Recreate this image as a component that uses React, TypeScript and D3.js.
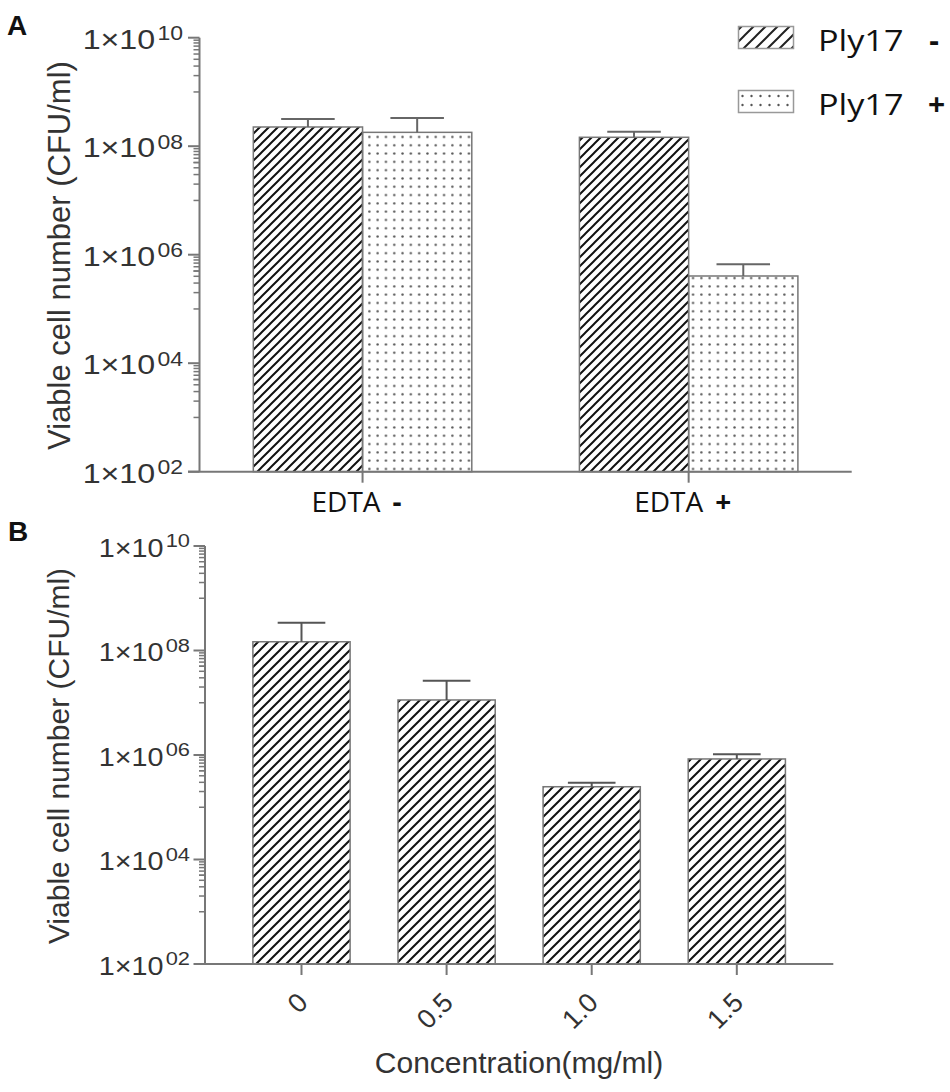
import React from "react";
import * as d3 from "d3";

// Panel A: viable counts with / without EDTA, Ply17 - / +
const edtaGroups = ["EDTA -", "EDTA +"];
const ply17Series = ["Ply17 -", "Ply17 +"];
const ply17MinusMean = [2.26e8, 1.46e8];
const ply17MinusSd = [0.91e8, 0.39e8];
const ply17PlusMean = [1.8e8, 4.05e5];
const ply17PlusSd = [1.51e8, 2.6e5];

// Panel B: Ply17 concentration series
const concentrations = ["0", "0.5", "1.0", "1.5"];
const concMean = [1.47e8, 1.13e7, 2.47e5, 8.4e5];
const concSd = [1.93e8, 1.51e7, 0.48e5, 1.9e5];

const yTickValues = [1e2, 1e4, 1e6, 1e8, 1e10];
const yTickExponents = ["02", "04", "06", "08", "10"];
const yTitle = "Viable cell number (CFU/ml)";
const xTitleB = "Concentration(mg/ml)";

const ARIAL = "'Liberation Sans', Arial, sans-serif";
const CALIBRI = "'Open Sans', 'Noto Sans', sans-serif";
const AXIS = "#777";
const TEXT = "#333";

// minor ticks: full decade below each major, plus 5x in the next one down
const minorTicks: number[] = [];
yTickValues.slice(1).forEach((major) => {
  for (let m = 1; m <= 9; m++) minorTicks.push((m * major) / 10);
  minorTicks.push((5 * major) / 1000);
});
const shownMinor = minorTicks.filter((t) => t >= 1e2);

type AxisProps = {
  y: d3.ScaleLogarithmic<number, number>;
  axisX: number;
  labelRight: number;
  mainSize: number;
  supSize: number;
  baseDy: number;
  supDy: number;
};

const LogYAxis = ({ y, axisX, labelRight, mainSize, supSize, baseDy, supDy }: AxisProps) => {
  const [y0, y1] = y.range();
  return (
    <g>
      <line x1={axisX} x2={axisX} y1={y0} y2={y1} stroke={AXIS} strokeWidth={2} />
      {shownMinor.map((t, i) => (
        <line key={i} x1={axisX - 6} x2={axisX} y1={y(t)} y2={y(t)} stroke={AXIS} strokeWidth={1.5} />
      ))}
      {yTickValues.map((t, i) => (
        <g key={t}>
          <line x1={axisX - 11.5} x2={axisX} y1={y(t)} y2={y(t)} stroke={AXIS} strokeWidth={2} />
          <g transform={`translate(${labelRight},${y(t)}) scale(1.15,1)`}>
            <text y={baseDy} textAnchor="end" fontFamily={ARIAL} fill={TEXT}>
              <tspan fontSize={mainSize}>1×10</tspan>
              <tspan fontSize={supSize} dx={2} dy={supDy - baseDy}>{yTickExponents[i]}</tspan>
            </text>
          </g>
        </g>
      ))}
    </g>
  );
};

const hatchPath = (p: number) => `M0,${p} L${p},0 M${-p / 2},${p / 2} L${p / 2},${-p / 2} M${p / 2},${p * 1.5} L${p * 1.5},${p / 2}`;

const App = () => {
  // ---------- panel A ----------
  const yA = d3.scaleLog().domain([1e2, 1e10]).range([471.7, 37.7]);
  const xA = d3.scaleBand<string>().domain(edtaGroups).range([199.5, 851.7]).paddingInner(0.33).paddingOuter(0.165);
  const xA1 = d3.scaleBand<string>().domain(ply17Series).range([0, xA.bandwidth()]);
  const seriesMeans = [ply17MinusMean, ply17PlusMean];
  const seriesSds = [ply17MinusSd, ply17PlusSd];
  const seriesFill = ["url(#hatchA)", "url(#dots)"];
  const legendFill = ["url(#hatchLegend)", "url(#dotsLegend)"];

  // ---------- panel B ----------
  const yB = d3.scaleLog().domain([1e2, 1e10]).range([964, 546]);
  const xB = d3.scaleBand<string>().domain(concentrations).range([205, 833.3]).padding(0.33);

  return (
    <svg width={950} height={1092} style={{ position: "absolute", left: 0, top: 0, background: "#fff" }}>
      <defs>
        <pattern id="hatchA" patternUnits="userSpaceOnUse" width={9} height={9}>
          <path d={hatchPath(9)} stroke="#111" strokeWidth={2} />
        </pattern>
        <pattern id="hatchB" patternUnits="userSpaceOnUse" width={10} height={10}>
          <path d={hatchPath(10)} stroke="#111" strokeWidth={2} />
        </pattern>
        <pattern id="hatchLegend" patternUnits="userSpaceOnUse" width={12} height={12}>
          <path d={hatchPath(12)} stroke="#222" strokeWidth={2} />
        </pattern>
        <pattern id="dots" patternUnits="userSpaceOnUse" width={8.3} height={8.3}>
          <circle cx={4.15} cy={4.15} r={1.2} fill="#555" />
        </pattern>
        <pattern id="dotsLegend" patternUnits="userSpaceOnUse" width={9} height={9} x={738} y={90}>
          <circle cx={4.5} cy={6} r={1.2} fill="#555" />
        </pattern>
      </defs>

      {/* ===== Panel A ===== */}
      <text x={7} y={35} fontFamily={ARIAL} fontWeight="bold" fontSize={28} fill="#111">A</text>

      {edtaGroups.map((g, gi) =>
        ply17Series.map((s, si) => {
          const x = (xA(g) ?? 0) + (xA1(s) ?? 0);
          const w = xA1.bandwidth();
          const mean = seriesMeans[si][gi];
          const top = yA(mean);
          const errTop = yA(mean + seriesSds[si][gi]);
          const cx = x + w / 2;
          return (
            <g key={g + s}>
              <rect x={x} y={top} width={w} height={yA(1e2) - top} fill={seriesFill[si]} stroke="#777" strokeWidth={1.5} />
              <line x1={cx} x2={cx} y1={top} y2={errTop} stroke="#666" strokeWidth={2} />
              <line x1={cx - w * 0.245} x2={cx + w * 0.245} y1={errTop} y2={errTop} stroke="#666" strokeWidth={2} />
            </g>
          );
        })
      )}

      <LogYAxis y={yA} axisX={199.5} labelRight={183} mainSize={28} supSize={20} baseDy={11} supDy={2.5} />
      <line x1={188} x2={851.7} y1={yA(1e2)} y2={yA(1e2)} stroke={AXIS} strokeWidth={2} />
      {edtaGroups.map((g) => {
        const cx = (xA(g) ?? 0) + xA.bandwidth() / 2;
        const [word, sign] = g.split(" ");
        return (
          <g key={g}>
            <line x1={cx} x2={cx} y1={yA(1e2)} y2={yA(1e2) + 11} stroke={AXIS} strokeWidth={2} />
            <text x={cx - 6} y={511.5} textAnchor="middle" fontFamily={CALIBRI} fontSize={28} fill="#111">
              <tspan>{word}</tspan>
              <tspan dx={12} fontWeight="bold">{sign}</tspan>
            </text>
          </g>
        );
      })}

      <text transform="translate(70,255.5) rotate(-90)" textAnchor="middle" fontFamily={ARIAL} fontSize={31} fill={TEXT}>
        {yTitle}
      </text>

      {/* legend */}
      {ply17Series.map((s, si) => {
        const [word, sign] = s.split(" ");
        const top = 26.5 + si * 64;
        return (
          <g key={s}>
            <rect x={738.5} y={top} width={55} height={22} fill={legendFill[si]} stroke="#999" strokeWidth={1.5} />
            <g transform={`translate(818,${top + 24.5}) scale(1.18,1)`}>
              <text fontFamily={CALIBRI} fontSize={29} fill="#111">{word}</text>
            </g>
            <text x={si === 0 ? 934 : 936.5} y={top + 24.5} textAnchor="middle" fontFamily={CALIBRI} fontWeight="bold" fontSize={30} fill="#111">
              {sign}
            </text>
          </g>
        );
      })}

      {/* ===== Panel B ===== */}
      <text x={8} y={541} fontFamily={ARIAL} fontWeight="bold" fontSize={28} fill="#111">B</text>

      {concentrations.map((c, i) => {
        const x = xB(c) ?? 0;
        const w = xB.bandwidth();
        const top = yB(concMean[i]);
        const errTop = yB(concMean[i] + concSd[i]);
        const cx = x + w / 2;
        return (
          <g key={c}>
            <rect x={x} y={top} width={w} height={yB(1e2) - top} fill="url(#hatchB)" stroke="#777" strokeWidth={1.5} />
            <line x1={cx} x2={cx} y1={top} y2={errTop} stroke="#555" strokeWidth={2} />
            <line x1={cx - w * 0.245} x2={cx + w * 0.245} y1={errTop} y2={errTop} stroke="#555" strokeWidth={2} />
          </g>
        );
      })}

      <LogYAxis y={yB} axisX={205} labelRight={190} mainSize={25} supSize={19} baseDy={10.5} supDy={1} />
      <line x1={194} x2={833.3} y1={yB(1e2)} y2={yB(1e2)} stroke={AXIS} strokeWidth={2} />
      {concentrations.map((c) => {
        const cx = (xB(c) ?? 0) + xB.bandwidth() / 2;
        return (
          <g key={c}>
            <line x1={cx} x2={cx} y1={yB(1e2)} y2={yB(1e2) + 11} stroke={AXIS} strokeWidth={2} />
            <text transform={`translate(${cx + 8},1004) rotate(-45)`} textAnchor="end" fontFamily={ARIAL} fontSize={27} fill={TEXT}>
              {c}
            </text>
          </g>
        );
      })}

      <text transform="translate(69,756) rotate(-90)" textAnchor="middle" fontFamily={ARIAL} fontSize={30} fill={TEXT}>
        {yTitle}
      </text>
      <text x={519} y={1073} textAnchor="middle" fontFamily={ARIAL} fontSize={30} fill={TEXT}>
        {xTitleB}
      </text>
    </svg>
  );
};

export default App;
